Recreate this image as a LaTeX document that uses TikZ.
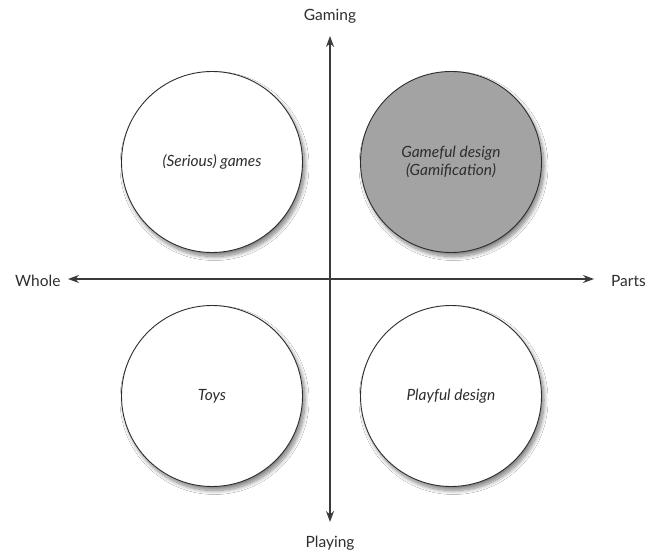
\documentclass[tikz,border=0pt]{standalone}
\usepackage{fontspec}
\setmainfont{Lato}
\usetikzlibrary{arrows.meta,shadows.blur}
\definecolor{ink}{HTML}{2E2E2E}
\definecolor{axisc}{HTML}{3A3A3A}
\definecolor{fillg}{HTML}{A3A3A3}
\begin{document}
\begin{tikzpicture}[x=1pt,y=-1pt,
  quad/.style={circle,draw=ink,line width=0.9pt,minimum size=181pt,inner sep=0pt,
    fill=white,font=\fontsize{15.5}{18}\selectfont\itshape,text=ink,align=center,
    blur shadow={shadow xshift=2.5pt,shadow yshift=-4pt,shadow blur steps=10,shadow blur radius=4pt,shadow opacity=50}},
  axlabel/.style={font=\fontsize{15.5}{18}\selectfont,text=ink,inner sep=0pt},
  axis/.style={draw=axisc,line width=1.1pt,-{Stealth[length=11pt,width=8pt]}}]
\useasboundingbox (0,0) rectangle (647,556);
\fill[white] (0,0) rectangle (647,556);
\node[axlabel] (gaming) at (330,16) {Gaming};
\node[axlabel] (playing) at (330,543) {Playing};
\node[axlabel,anchor=west] (whole) at (15,281) {Whole};
\node[axlabel,anchor=east] (parts) at (646,281) {Parts};
\coordinate (center) at (330,279);
\coordinate (top) at (330,36);
\coordinate (bottom) at (330,522);
\coordinate (left) at (68,279);
\coordinate (right) at (594,279);
\node[quad] (serious) at (212,162) {(Serious) games};
\node[quad,fill=fillg] (gameful) at (451,162) {Gameful design\\(Gamification)};
\node[quad] (toys) at (212,396) {Toys};
\node[quad] (playful) at (451,396) {Playful design};
\draw[axis] (center) -- (top);
\draw[axis] (center) -- (bottom);
\draw[axis] (center) -- (left);
\draw[axis] (center) -- (right);
\end{tikzpicture}
\end{document}
